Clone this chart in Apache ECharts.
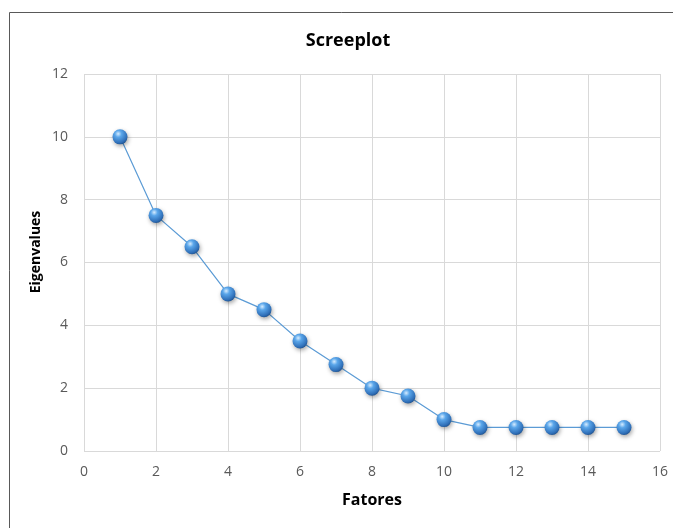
<!DOCTYPE html>
<html><head><meta charset="utf-8">
<script src="https://cdn.jsdelivr.net/npm/echarts@6/dist/echarts.min.js"></script>
<style>html,body{margin:0;padding:0;background:#fff}#c{width:673px;height:528px}</style>
</head><body><div id="c"></div>
<script>
const fatores = [1,2,3,4,5,6,7,8,9,10,11,12,13,14,15];
const eigenvalues = [10,7.5,6.5,5,4.5,3.5,2.75,2,1.75,1,0.75,0.75,0.75,0.75,0.75];
const titleText = "Screeplot";
const xName = "Fatores";
const yName = "Eigenvalues";

const chart = echarts.init(document.getElementById('c'), null, {renderer:'canvas'});
const font = "'Open Sans', 'Liberation Sans', sans-serif";
chart.setOption({
  animation:false,
  graphic:[
    {type:'rect',shape:{x:9.5,y:12.5,width:700,height:600},style:{fill:null,stroke:'#595959',lineWidth:1},silent:true},
    {type:'text',x:36,y:252,rotation:Math.PI/2,style:{text:yName,font:"bold 14px "+font,fill:'#000',textAlign:'center',textVerticalAlign:'middle'},silent:true}
  ],
  title:{text:titleText,left:343,top:27,textAlign:'center',textStyle:{fontFamily:font,fontSize:18,fontWeight:'bold',color:'#000'}},
  grid:{left:84,right:13,top:74,bottom:77},
  xAxis:{type:'value',min:0,max:16,interval:2,name:xName,nameLocation:'middle',nameGap:41,
    nameTextStyle:{fontFamily:font,fontSize:16,fontWeight:'bold',color:'#000'},
    axisLine:{show:false},axisTick:{show:false},
    axisLabel:{fontFamily:font,fontSize:14,color:'#595959',margin:14},
    splitLine:{show:true,lineStyle:{color:'#d9d9d9',width:1}}},
  yAxis:{type:'value',min:0,max:12,interval:2,
    axisLine:{show:false},axisTick:{show:false},
    axisLabel:{fontFamily:font,fontSize:14,color:'#595959',margin:16},
    splitLine:{show:true,lineStyle:{color:'#d9d9d9',width:1}}},
  series:[{type:'line',data:fatores.map((f,i)=>[f,eigenvalues[i]]),
    lineStyle:{color:'#5b9bd5',width:1.2},
    symbol:'circle',symbolSize:15,
    itemStyle:{color:new echarts.graphic.RadialGradient(0.38,0.3,0.75,[
      {offset:0,color:'#d6ecff'},{offset:0.3,color:'#5aa6ea'},{offset:0.8,color:'#2f6fb8'},{offset:1,color:'#1e4f8a'}]),
      borderWidth:0,shadowColor:'rgba(0,0,0,0.35)',shadowBlur:4,shadowOffsetX:1,shadowOffsetY:2}}]
});
</script></body></html>
